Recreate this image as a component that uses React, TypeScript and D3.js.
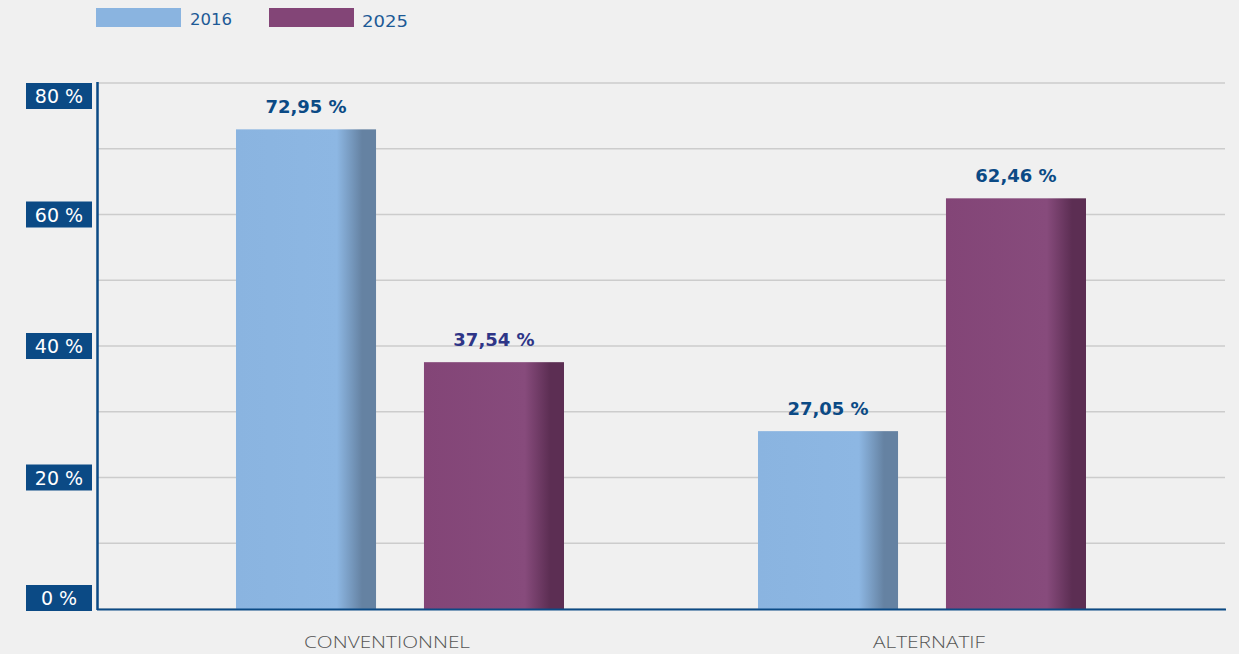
import React from "react";
import * as d3 from "d3";

const categories = ["CONVENTIONNEL", "ALTERNATIF"];
const series = ["2016", "2025"];
const values2016 = [72.95, 27.05];
const values2025 = [37.54, 62.46];
const valueLabels2016 = ["72,95 %", "27,05 %"];
const valueLabels2025 = ["37,54 %", "62,46 %"];
const yTicks = [0, 20, 40, 60, 80];
const yGrid = [0, 10, 20, 30, 40, 50, 60, 70, 80];

const W = 1239;
const H = 654;
const FONT = "'Open Sans', 'DejaVu Sans', sans-serif";
const WIDE = "'DejaVu Sans', sans-serif";

const colors: Record<string, { base: string; light: string; dark: string }> = {
  "2016": { base: "#8ab4e0", light: "#8db7e3", dark: "#6582a2" },
  "2025": { base: "#834577", light: "#874b7c", dark: "#5c2e53" },
};
const labelColor = (s: string, i: number) =>
  s === "2025" && i === 0 ? "#2e3587" : "#0b4a85";
const catLabelLen: Record<string, number> = { CONVENTIONNEL: 166, ALTERNATIF: 112 };

export default function App() {
  const y = d3.scaleLinear().domain([0, 80]).range([609, 83]);
  const x0 = d3.scaleBand<string>().domain(categories).range([139, 1183]).paddingInner(0).paddingOuter(0);
  const x1 = d3.scaleBand<string>().domain(series).range([-164, 164]).paddingInner(0.255).paddingOuter(0);
  const dataBySeries: Record<string, number[]> = { "2016": values2016, "2025": values2025 };
  const labelsBySeries: Record<string, string[]> = { "2016": valueLabels2016, "2025": valueLabels2025 };

  return (
    <svg width={W} height={H} style={{ position: "absolute", left: 0, top: 0 }}>
      <defs>
        {series.map((s) => (
          <linearGradient key={s} id={`g${s}`} x1="0" x2="1" y1="0" y2="0">
            <stop offset="0" stopColor={colors[s].base} />
            <stop offset="0.72" stopColor={colors[s].light} />
            <stop offset="0.9" stopColor={colors[s].dark} />
            <stop offset="1" stopColor={colors[s].dark} />
          </linearGradient>
        ))}
      </defs>
      <rect x={0} y={0} width={W} height={H} fill="#f0f0f0" />

      {/* legend */}
      <rect x={96} y={8} width={85} height={19} fill={colors["2016"].base} />
      <text x={190} y={25} fontFamily={WIDE} fontSize={16} fill="#1d5a96" textLength={42} lengthAdjust="spacingAndGlyphs">2016</text>
      <rect x={269} y={8} width={85} height={19} fill={colors["2025"].base} />
      <text x={362} y={27} fontFamily={WIDE} fontSize={15} fill="#1d5a96" textLength={46} lengthAdjust="spacingAndGlyphs">2025</text>

      {/* grid */}
      {yGrid.map((t) => (
        <line key={t} x1={98} x2={1225} y1={y(t)} y2={y(t)} stroke="#cccccc" strokeWidth={1.5} />
      ))}

      {/* bars */}
      {categories.map((c, i) =>
        series.map((s) => {
          const v = dataBySeries[s][i];
          const bx = (x0(c) as number) + x0.bandwidth() / 2 + (x1(s) as number);
          const bw = x1.bandwidth();
          return (
            <g key={c + s}>
              <rect x={bx} y={y(v)} width={bw} height={y(0) - y(v)} fill={`url(#g${s})`} />
              <text
                x={bx + bw / 2}
                y={y(v) - 16}
                textAnchor="middle"
                fontFamily={WIDE}
                fontWeight={700}
                fontSize={18}
                fill={labelColor(s, i)}
              >
                {labelsBySeries[s][i]}
              </text>
            </g>
          );
        })
      )}

      {/* axes */}
      <line x1={97.5} x2={97.5} y1={82} y2={610} stroke="#0b4a85" strokeWidth={2.5} />
      <line x1={97} x2={1226} y1={609.5} y2={609.5} stroke="#0b4a85" strokeWidth={2} />

      {/* y tick labels */}
      {yTicks.map((t) => {
        let cy = y(t);
        if (t === 80) cy = y(t) + 13;
        if (t === 0) cy = y(t) - 11;
        return (
          <g key={t}>
            <rect x={26} y={cy - 13} width={66} height={26} fill="#0b4a85" />
            <text x={59} y={cy + 7} textAnchor="middle" fontFamily={WIDE} fontSize={19} fill="#ffffff">
              {`${t} %`}
            </text>
          </g>
        );
      })}

      {/* category labels */}
      {categories.map((c, i) => (
        <text
          key={c}
          x={(x0(c) as number) + x0.bandwidth() / 2 + (i === 0 ? -13 : 7)}
          y={648}
          textAnchor="middle"
          fontFamily={FONT}
          fontWeight={300}
          fontSize={17}
          fill="#555555"
          textLength={catLabelLen[c]}
          lengthAdjust="spacingAndGlyphs"
        >
          {c}
        </text>
      ))}
    </svg>
  );
}
